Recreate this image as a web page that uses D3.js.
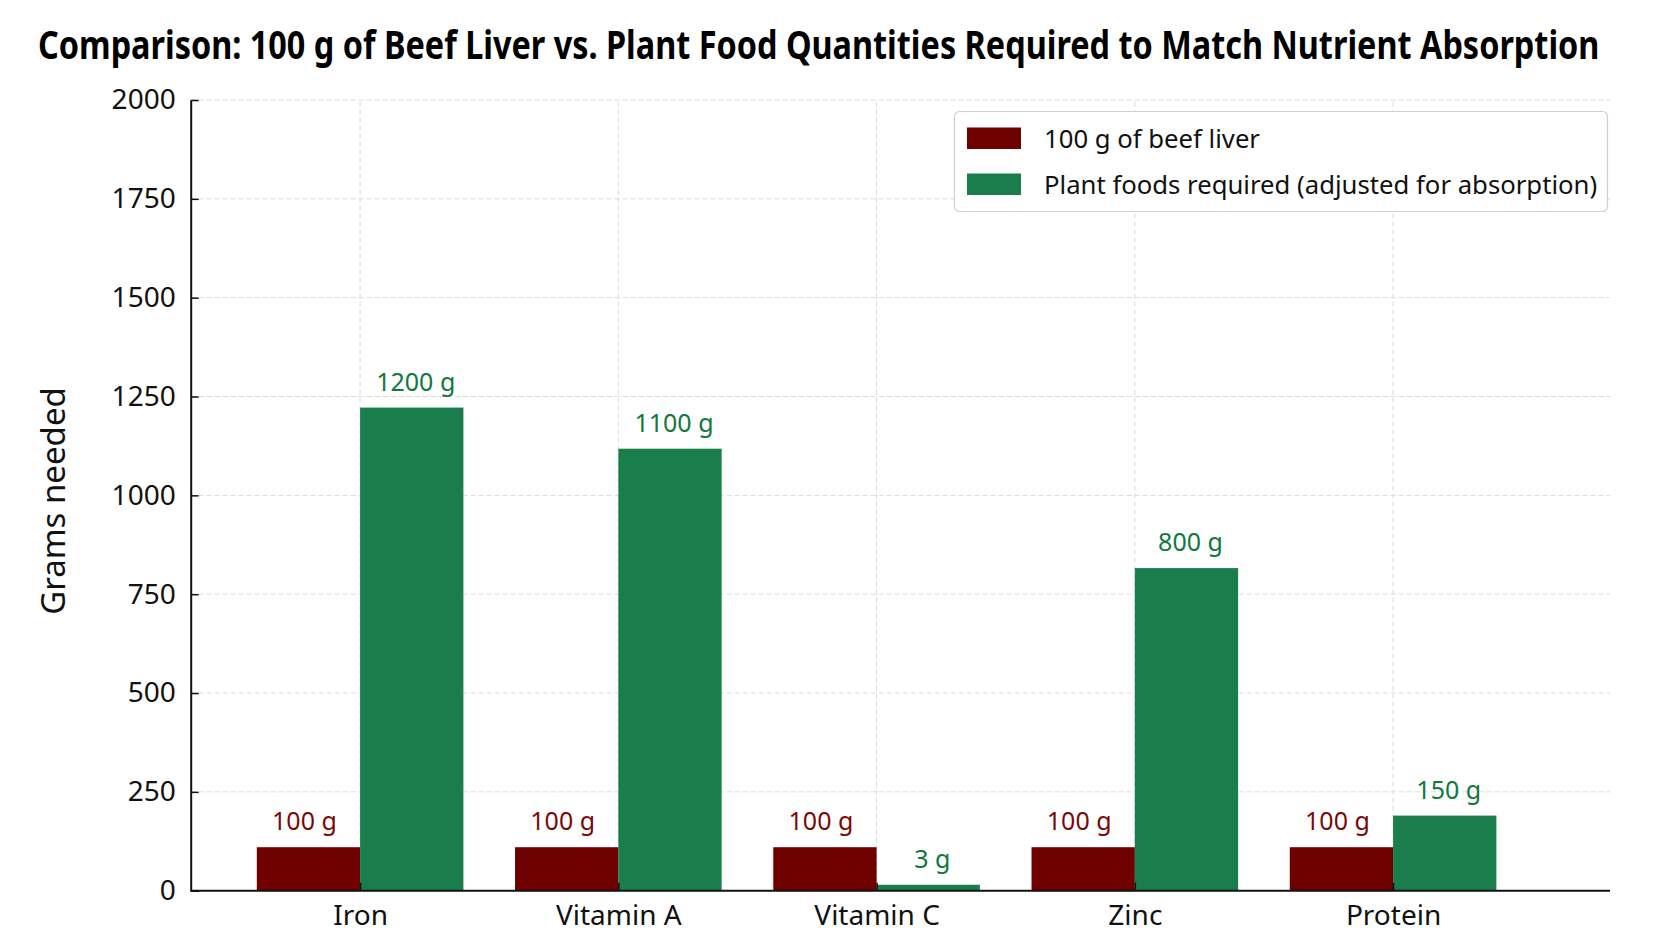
<!DOCTYPE html>
<html>
<head>
<meta charset="utf-8">
<script src="https://cdn.jsdelivr.net/npm/d3@7"></script>
<style>
  html, body { margin: 0; padding: 0; background: #ffffff; }
  svg { display: block; font-family: "Noto Sans", "Open Sans", sans-serif; }
  .tick-label text { font-size: 28px; fill: #111; }
</style>
</head>
<body>
<div id="chartContainer"></div>
<script>
// nutrients on the x axis
var categories = ["Iron", "Vitamin A", "Vitamin C", "Zinc", "Protein"];
// bar heights as drawn (grams)
var liverValues = [110, 110, 110, 110, 110];
var plantValues = [1222, 1118, 15, 816, 190];
// printed amounts above the bars
var liverLabels = ["100 g", "100 g", "100 g", "100 g", "100 g"];
var plantLabels = ["1200 g", "1100 g", "3 g", "800 g", "150 g"];
// y ticks
var yTicks = [0, 250, 500, 750, 1000, 1250, 1500, 1750, 2000];
var seriesNames = ["100 g of beef liver", "Plant foods required (adjusted for absorption)"];

Chart = {
    width : 1672,
    height : 941,
    left : 190.7, // plot left edge
    right : 1610,
    top : 100,
    bottom : 890.7,
    barWidth : 0.4, // in category units
    liverColor : "#6e0000",
    plantColor : "#1a7d4c",
    liverText : "#7a0a0a",
    plantText : "#0e7a3c",
    gridColor : "#dadada",

    drawChart : function(){
        var svg = d3.select("#chartContainer")
            .append("svg")
            .attr("width", Chart.width)
            .attr("height", Chart.height);

        svg.append("rect")
            .attr("width", Chart.width)
            .attr("height", Chart.height)
            .attr("fill", "#ffffff");

        var x = d3.scaleLinear()
            .domain([-0.656, 4.84])
            .range([Chart.left, Chart.right]);
        var y = d3.scaleLinear()
            .domain([0, 2000])
            .range([Chart.bottom, Chart.top]);

        this.drawGrid(svg, x, y);
        this.drawBars(svg, x, y);
        this.drawAxes(svg, x, y);
        this.drawTexts(svg);
        this.drawLegend(svg);
    },

    drawGrid : function(svg, x, y){
        var g = svg.append("g").attr("class", "grid");
        g.selectAll("line.h")
            .data(yTicks)
            .enter().append("line")
            .attr("class", "h")
            .attr("x1", Chart.left)
            .attr("x2", Chart.right)
            .attr("y1", function(d){ return y(d); })
            .attr("y2", function(d){ return y(d); });
        g.selectAll("line.v")
            .data(categories)
            .enter().append("line")
            .attr("class", "v")
            .attr("x1", function(d, i){ return x(i); })
            .attr("x2", function(d, i){ return x(i); })
            .attr("y1", y(0))
            .attr("y2", y(2000));
        g.selectAll("line")
            .style("stroke", Chart.gridColor)
            .style("stroke-width", 1)
            .style("stroke-dasharray", "5,3");
    },

    drawBars : function(svg, x, y){
        var g = svg.append("g").attr("class", "bars");
        var bw = Chart.barWidth;

        g.selectAll("rect.liver")
            .data(liverValues)
            .enter().append("rect")
            .attr("class", "liver")
            .attr("x", function(d, i){ return x(i - bw); })
            .attr("width", function(d, i){ return x(i) - x(i - bw); })
            .attr("y", function(d){ return y(d); })
            .attr("height", function(d){ return y(0) - y(d); })
            .attr("fill", Chart.liverColor);

        g.selectAll("rect.plant")
            .data(plantValues)
            .enter().append("rect")
            .attr("class", "plant")
            .attr("x", function(d, i){ return x(i); })
            .attr("width", function(d, i){ return x(i + bw) - x(i); })
            .attr("y", function(d){ return y(d); })
            .attr("height", function(d){ return y(0) - y(d); })
            .attr("fill", Chart.plantColor);

        // value labels
        g.selectAll("text.liver")
            .data(liverValues)
            .enter().append("text")
            .attr("class", "liver")
            .attr("x", function(d, i){ return x(i - bw / 2) - 4; })
            .attr("y", function(d){ return y(d) - 17; })
            .attr("text-anchor", "middle")
            .style("font-size", "25px")
            .style("fill", Chart.liverText)
            .text(function(d, i){ return liverLabels[i]; });

        g.selectAll("text.plant")
            .data(plantValues)
            .enter().append("text")
            .attr("class", "plant")
            .attr("x", function(d, i){ return x(i + bw / 2) + 4; })
            .attr("y", function(d){ return y(d) - 17; })
            .attr("text-anchor", "middle")
            .style("font-size", "25px")
            .style("fill", Chart.plantText)
            .text(function(d, i){ return plantLabels[i]; });
    },

    drawAxes : function(svg, x, y){
        var yAxis = d3.axisLeft(y)
            .tickValues(yTicks)
            .tickFormat(d3.format("d"))
            .tickSizeInner(-8)
            .tickSizeOuter(0)
            .tickPadding(15);
        var xAxis = d3.axisBottom(x)
            .tickValues(d3.range(categories.length))
            .tickFormat(function(d){ return categories[d]; })
            .tickSizeInner(-8)
            .tickSizeOuter(0)
            .tickPadding(14);

        var gy = svg.append("g")
            .attr("class", "tick-label")
            .attr("transform", "translate(" + Chart.left + ",0)")
            .call(yAxis);
        var gx = svg.append("g")
            .attr("class", "tick-label")
            .attr("transform", "translate(0," + Chart.bottom + ")")
            .call(xAxis);

        [gx, gy].forEach(function(g){
            g.attr("font-family", null).attr("font-size", null);
            g.select(".domain").style("stroke", "#111").style("stroke-width", 2);
            g.selectAll(".tick line").style("stroke", "#111").style("stroke-width", 1.5);
        });
        gx.selectAll("path.domain").attr("d", "M" + Chart.left + ",0H" + Chart.right);
    },

    drawTexts : function(svg){
        // title: squeeze to the reference width with a scale, not textLength
        var title = svg.append("text")
            .style("font-size", "40px")
            .style("font-weight", "bold")
            .style("fill", "#000")
            .text("Comparison: 100 g of Beef Liver vs. Plant Food Quantities Required to Match Nutrient Absorption");
        var w = title.node().getComputedTextLength();
        title.attr("transform", "translate(38,59) scale(" + (1562 / w) + ",1)");

        svg.append("text")
            .attr("transform", "translate(65,501) rotate(-90)")
            .attr("text-anchor", "middle")
            .style("font-size", "33px")
            .style("fill", "#111")
            .text("Grams needed");
    },

    drawLegend : function(svg){
        var g = svg.append("g").attr("class", "legend");
        g.append("rect")
            .attr("x", 954.5)
            .attr("y", 111.5)
            .attr("width", 653)
            .attr("height", 100)
            .attr("rx", 5)
            .attr("fill", "#ffffff")
            .attr("stroke", "#d0d0d0")
            .attr("stroke-width", 1.2);

        var colors = [Chart.liverColor, Chart.plantColor];
        var items = g.selectAll("g.item")
            .data(seriesNames)
            .enter().append("g")
            .attr("class", "item")
            .attr("transform", function(d, i){ return "translate(967," + (127.5 + i * 46) + ")"; });
        items.append("rect")
            .attr("width", 54)
            .attr("height", 21.5)
            .attr("fill", function(d, i){ return colors[i]; });
        items.append("text")
            .attr("x", 77)
            .attr("y", 11)
            .attr("dy", ".35em")
            .style("font-size", "25.7px")
            .style("fill", "#111")
            .text(function(d){ return d; });
    }
};

Chart.drawChart();
</script>
</body>
</html>
